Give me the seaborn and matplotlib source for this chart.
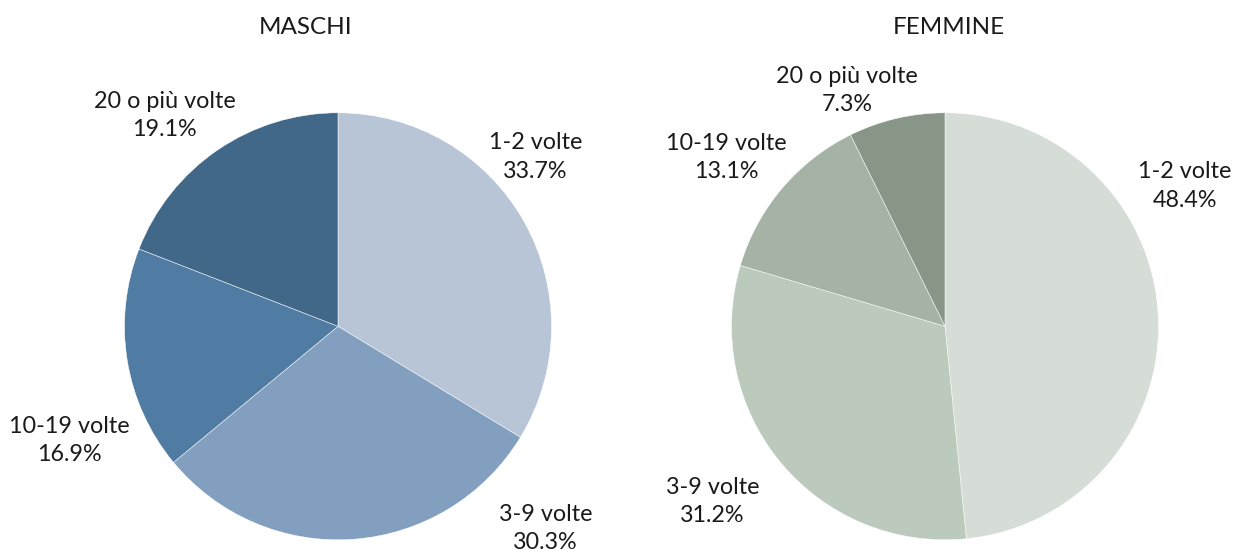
import matplotlib
matplotlib.use("Agg")
import matplotlib.pyplot as plt
import seaborn as sns

# categories and shares (percent)
categories = ["1-2 volte", "3-9 volte", "10-19 volte", "20 o più volte"]
maschi = [33.7, 30.3, 16.9, 19.1]
femmine = [48.4, 31.2, 13.1, 7.3]

colors_m = ["#B8C5D7", "#829FBF", "#507BA3", "#416789"]
colors_f = ["#D6DDD7", "#BCC9BD", "#A4B3A5", "#879687"]

# label block centres, in pie radius units (Excel "best fit" placement)
label_pos_m = [(0.925, 0.793), (0.972, -0.948), (-1.258, -0.535), (-0.812, 0.986)]
label_pos_f = [(1.122, 0.657), (-1.089, -0.822), (-1.023, 0.789), (-0.460, 1.103)]

sns.set_theme(style="white")
plt.rcParams["font.family"] = ["Lato", "DejaVu Sans"]

W, H = 1236, 554
R = 213.5  # pie radius in pixels
fig = plt.figure(figsize=(W / 100, H / 100), dpi=100)


def draw_pie(cx, cy, half, values, colors, label_pos, title, title_dx):
    # cx, cy = pie centre in pixels (cy from top)
    ax = fig.add_axes([(cx - half) / W, 0, 2 * half / W, 1])
    ax.pie(values, colors=sns.color_palette(colors), startangle=90,
           counterclock=False, radius=1,
           wedgeprops=dict(edgecolor="white", linewidth=0.35))
    ybot = -(H - cy) / R
    ax.set_xlim(-half / R, half / R)
    ax.set_ylim(ybot, ybot + H / R)
    ax.set_aspect("auto")
    ax.axis("off")
    for cat, v, (lx, ly) in zip(categories, values, label_pos):
        ax.text(lx, ly, f"{cat}\n{v:.1f}%", ha="center", va="center",
                fontsize=16.8, color="#1a1a1a", linespacing=1.42)
    ax.text(title_dx, (cy - 28) / R, title, ha="center", va="center",
            fontsize=17.5, color="#1a1a1a")
    return ax


draw_pie(338, 326.3, 290, maschi, colors_m, label_pos_m, "MASCHI", -0.150)
draw_pie(945, 326.3, 290, femmine, colors_f, label_pos_f, "FEMMINE", 0.019)

fig.savefig("out.png", dpi=100, facecolor="white")
